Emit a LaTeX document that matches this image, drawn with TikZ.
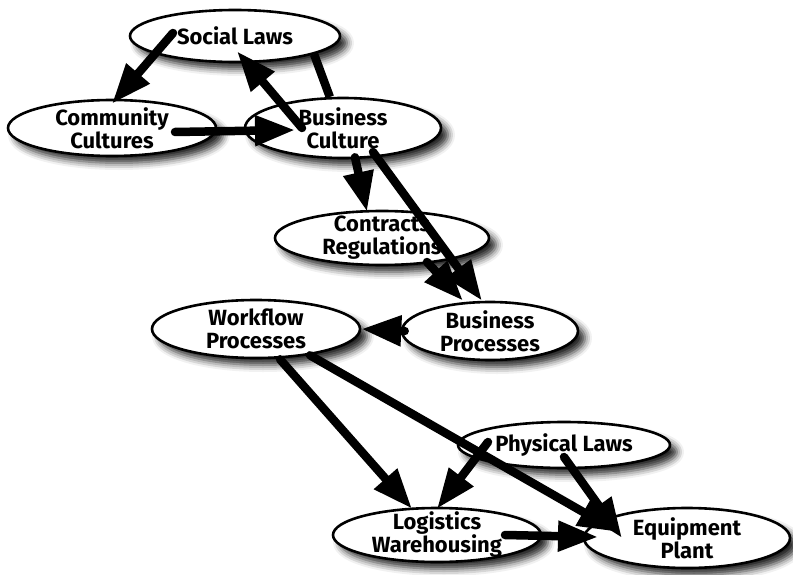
\documentclass[tikz,border=0pt]{standalone}
\usepackage{fontspec}
\setmainfont{Fira Sans}
\usepackage{tikz}
\usetikzlibrary{shapes.geometric,arrows.meta,shadows.blur}

\tikzset{
  blob/.style={ellipse, draw, line width=2.6pt, fill=white, inner xsep=0pt, inner ysep=-10pt,
    align=center, font=\fontsize{22}{23}\selectfont\bfseries,
    blur shadow={shadow xshift=7pt, shadow yshift=-7pt, shadow blur radius=7pt, shadow opacity=85}},
  arr/.style={line width=8.5pt, line cap=round, -{Triangle[length=40pt,width=29pt]}},
  bar/.style={line width=8.5pt}
}

\begin{document}
\begin{tikzpicture}[x=1pt,y=-1pt]
\useasboundingbox (0,0) rectangle (793,575);

\foreach \nm/\x/\y/\w/\h/\txt in {
  soc/235/36/210/52/{Social Laws},
  com/112/128/208/56/{Community\\Cultures},
  bcul/343/128/196/60/{Business\\Culture},
  con/382/238/214/54/{Contracts\\Regulations},
  bproc/490/331/176/58/{Business\\Processes},
  wflow/256/329/208/58/{Workflow\\Processes},
  phys/564/445/212/46/{Physical Laws},
  logi/437/535/208/54/{Logistics\\Warehousing},
  equip/687/538/206/60/{Equipment\\Plant}}
{
 \node[blob, minimum width=\w pt, minimum height=\h pt] (\nm) at (\x,\y) {\txt};
}

% top
\draw[arr] ([xshift=-62pt,yshift=3pt]soc.center) -- ([yshift=-5pt]com.north);
\draw[arr] ([xshift=-41pt]bcul.center) -- ([xshift=2pt,yshift=12pt]soc.south);
\draw[bar] (soc.-13) -- (bcul.113);
\draw[arr] ([xshift=63pt,yshift=-4pt]com.center) -- ([xshift=-48pt,yshift=-2pt]bcul.center);

% middle
\draw[arr] ([xshift=12pt,yshift=2pt]bcul.south) -- ([xshift=-15pt,yshift=-2pt]con.north);
\draw[arr] ([xshift=30pt,yshift=-24pt]bcul.center) -- ([xshift=-8pt]bproc.north);
\draw[arr] ([xshift=45pt,yshift=-24pt]con.center) -- ([xshift=-27pt]bproc.north);
\draw[arr] ([xshift=4pt]bproc.west) -- (wflow.east);

% bottom
\draw[arr] ([xshift=24pt]wflow.south) -- ([xshift=-25pt,yshift=-2pt]logi.north);
\draw[arr] ([xshift=54pt,yshift=4pt]wflow.south) -- ([xshift=-69pt,yshift=6pt]equip.center);
\draw[arr] ([xshift=-76pt,yshift=3pt]phys.center) -- ([yshift=-2pt]logi.north);
\draw[arr] ([yshift=-12pt]phys.center) -- ([xshift=-65pt]equip.center);
\draw[arr] ([xshift=68pt]logi.center) -- ([xshift=-89pt,yshift=1pt]equip.center);

\end{tikzpicture}
\end{document}
